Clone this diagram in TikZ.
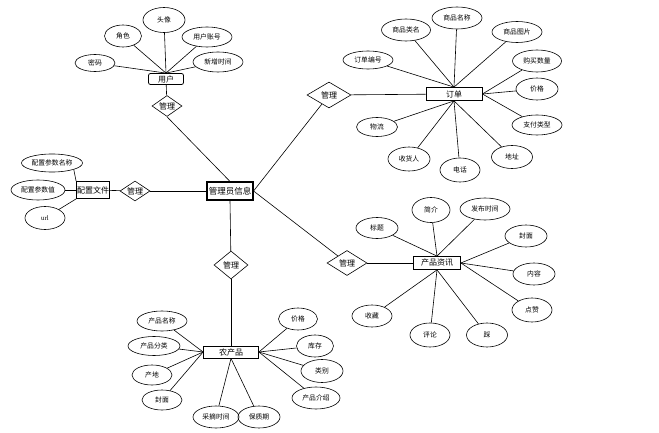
\documentclass[tikz,border=0pt]{standalone}
\usepackage{fontspec}
\setmainfont{Liberation Serif}
\newfontfamily\cjk{Noto Sans CJK SC}
\usetikzlibrary{shapes.geometric}
\tikzset{
  ell/.style 2 args={ellipse, draw, line width=0.6pt, inner sep=0pt, font=\cjk\fontsize{6.8}{8}\selectfont, minimum width=#1pt, minimum height=#2pt},
  ent/.style 2 args={rectangle, draw, line width=0.8pt, inner sep=0pt, font=\cjk\fontsize{8}{9}\selectfont, minimum width=#1pt, minimum height=#2pt},
  rel/.style 2 args={diamond, aspect=1.5, draw, line width=0.6pt, inner sep=0pt, font=\cjk\fontsize{8}{9}\selectfont, minimum width=#1pt, minimum height=#2pt},
  lnk/.style={line width=0.6pt}
}
\begin{document}
\begin{tikzpicture}[x=1pt,y=-1pt]
\useasboundingbox (0,0) rectangle (659,433);
% ---------- admin
\node[ent={46}{18}, line width=1.1pt, font=\cjk\fontsize{8.5}{9}\selectfont] (admin) at (230,191) {管理员信息};
% ---------- user
\node[ent={35}{11}, rounded corners=2pt] (user) at (166,79) {用户};
\node[rel={30}{21}] (r1) at (167,106) {管理};
\node[ell={40}{17}] (mima) at (95,63) {密码};
\node[ell={37}{22}] (juese) at (123,36) {角色};
\node[ell={42}{25}] (tx) at (164,20) {头像};
\node[ell={50}{20}] (zh) at (207,37) {用户账号};
\node[ell={50}{20}] (xz) at (218,62) {新增时间};
\foreach \n in {mima,juese,tx,zh,xz} \draw[lnk] (user.north) -- (\n);
\draw[lnk] (user) -- (r1);
\draw[lnk] (r1.south) -- (admin.north);
% ---------- config
\node[ent={33}{17}] (cfg) at (93,190) {配置文件};
\node[rel={30}{20}] (r2) at (135,191) {管理};
\node[ell={61}{18}] (pn) at (52,163) {配置参数名称};
\node[ell={54}{20}] (pv) at (38,190) {配置参数值};
\node[ell={40}{23}, font=\fontsize{6.8}{8}\selectfont] (url) at (45,218) {url};
\draw[lnk] (cfg.north west) -- (pn.south east);
\draw[lnk] (cfg.west) -- (pv);
\draw[lnk] (cfg.south west) -- (url);
\draw[lnk] (cfg) -- (r2);
\draw[lnk] (r2) -- (admin);
% ---------- order
\node[rel={44}{26}] (r3) at (329,95) {管理};
\node[ent={56}{13}] (order) at (454,94) {订单};
\draw[lnk] (admin.east) -- (r3);
\draw[lnk] (r3) -- (order);
\node[ell={50}{18}] (o1) at (368,60) {订单编号};
\node[ell={49}{22}] (o2) at (406,30) {商品类名};
\node[ell={50}{22}] (o3) at (457,18) {商品名称};
\node[ell={50}{21}] (o4) at (517,32) {商品图片};
\node[ell={49}{22}] (o5) at (537,61) {购买数量};
\node[ell={42}{22}] (o6) at (537,89) {价格};
\node[ell={50}{20}] (o7) at (537,125) {支付类型};
\node[ell={41}{19}] (o8) at (377,127) {物流};
\node[ell={42}{24}] (o9) at (409,159) {收货人};
\node[ell={40}{24}] (o10) at (460,170) {电话};
\node[ell={41}{23}] (o11) at (512,157) {地址};
\foreach \n in {o1,o2,o3,o4} \draw[lnk] (order.north) -- (\n);
\foreach \n in {o5,o6,o7} \draw[lnk] (order.east) -- (\n);
\foreach \n in {o8,o9,o10,o11} \draw[lnk] (order.south) -- (\n);
% ---------- product info
\node[rel={40}{25}] (r4) at (347,263) {管理};
\node[ent={47}{13}] (info) at (437,263) {产品资讯};
\draw[lnk] (admin.east) -- (r4);
\draw[lnk] (r4) -- (info);
\node[ell={42}{21}] (i1) at (377,228) {标题};
\node[ell={38}{25}] (i2) at (431,210) {简介};
\node[ell={50}{22}] (i3) at (485,209) {发布时间};
\node[ell={42}{22}] (i4) at (526,236) {封面};
\node[ell={42}{22}] (i5) at (534,274) {内容};
\node[ell={40}{24}] (i6) at (532,310) {点赞};
\node[ell={41}{24}] (i7) at (487,335) {踩};
\node[ell={40}{24}] (i8) at (430,335) {评论};
\node[ell={40}{22}] (i9) at (372,316) {收藏};
\foreach \n in {i1,i2,i3} \draw[lnk] (info.north) -- (\n);
\foreach \n in {i4,i5,i6} \draw[lnk] (info.east) -- (\n);
\foreach \n in {i7,i8,i9} \draw[lnk] (info.south) -- (\n);
% ---------- agri product
\node[rel={34}{28}] (r5) at (231,265) {管理};
\node[ent={55}{12}] (agri) at (231,352) {农产品};
\draw[lnk] (admin.south) -- (r5);
\draw[lnk] (r5) -- (agri);
\node[ell={50}{20}] (a1) at (162,321) {产品名称};
\node[ell={52}{19}] (a2) at (154,346) {产品分类};
\node[ell={40}{20}] (a3) at (152,375) {产地};
\node[ell={40}{20}] (a4) at (162,400) {封面};
\node[ell={46}{22}] (a5) at (216,417) {采摘时间};
\node[ell={42}{22}] (a6) at (259,417) {保质期};
\node[ell={48}{22}] (a7) at (316,398) {产品介绍};
\node[ell={42}{23}] (a8) at (322,371) {类别};
\node[ell={37}{22}] (a9) at (315,346) {库存};
\node[ell={39}{22}] (a10) at (298,319) {价格};
\foreach \n in {a1,a2,a3,a4} \draw[lnk] (agri.west) -- (\n);
\foreach \n in {a5,a6} \draw[lnk] (agri.south) -- (\n);
\foreach \n in {a7,a8,a9,a10} \draw[lnk] (agri.east) -- (\n);
\end{tikzpicture}
\end{document}
